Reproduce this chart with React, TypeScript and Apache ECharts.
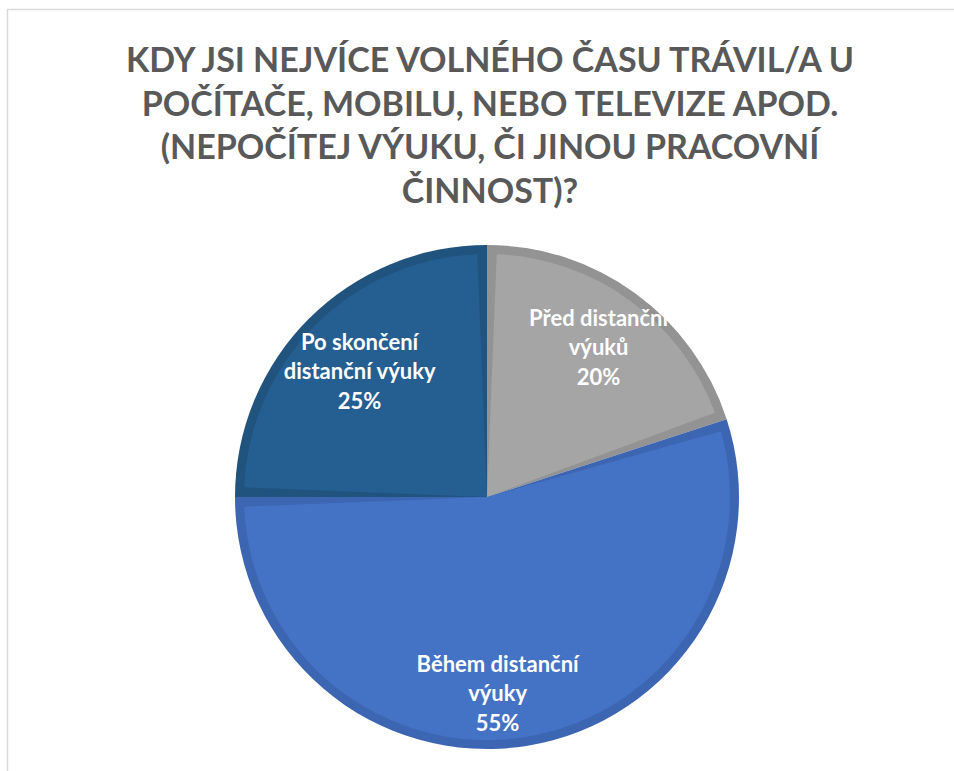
import React, { useEffect, useRef } from "react";
import * as echarts from "echarts";

const titleText =
  "KDY JSI NEJVÍCE VOLNÉHO ČASU TRÁVIL/A U\nPOČÍTAČE, MOBILU, NEBO TELEVIZE APOD.\n(NEPOČÍTEJ VÝUKU, ČI JINOU PRACOVNÍ\nČINNOST)?";
const categories = ["Před distanční\nvýuků", "Během distanční\nvýuky", "Po skončení\ndistanční výuky"];
const values = [20, 55, 25];
const fillColors = ["#A5A5A5", "#4472C4", "#255E91"];
const edgeColors = ["#939393", "#3D66B2", "#21537F"];
const labelOffsets = [[4, -2], [-18, 15], [2, 3]];

export default function App() {
  const ref = useRef<HTMLDivElement>(null);
  useEffect(() => {
    if (!ref.current) return;
    const chart = echarts.init(ref.current, null, { renderer: "svg" });
    const center = [487, 497];
    chart.setOption({
      animation: false,
      backgroundColor: "#ffffff",
      title: {
        text: titleText,
        left: 485,
        top: 32,
        textAlign: "center",
        textStyle: {
          fontFamily: "Lato",
          fontWeight: "bold",
          fontSize: 34,
          lineHeight: 43.5,
          color: "#595959",
        },
      },
      graphic: [
        {
          type: "rect",
          shape: { x: 7.5, y: 9.5, width: 1000, height: 900 },
          style: { fill: "none", stroke: "#D9D9D9", lineWidth: 1.5 },
          silent: true,
        },
      ],
      series: [
        {
          type: "pie",
          silent: true,
          center,
          radius: [0, 252],
          startAngle: 90,
          clockwise: true,
          label: { show: false },
          labelLine: { show: false },
          data: values.map((v, i) => ({
            name: categories[i],
            value: v,
            itemStyle: { color: edgeColors[i] },
          })),
        },
        {
          type: "pie",
          silent: true,
          center,
          radius: [0, 243],
          startAngle: 90,
          clockwise: true,
          padAngle: 4.6,
          label: { show: false },
          labelLine: { show: false },
          data: values.map((v, i) => ({
            name: categories[i],
            value: v,
            itemStyle: { color: fillColors[i] },
          })),
        },
        {
          type: "pie",
          silent: true,
          center,
          radius: [108, 252],
          startAngle: 90,
          clockwise: true,
          z: 5,
          itemStyle: { color: "rgba(0,0,0,0)" },
          labelLine: { show: false },
          label: {
            show: true,
            position: "inside",
            formatter: (p: any) => `${p.name}\n${p.value}%`,
            color: "#ffffff",
            fontFamily: "Lato",
            fontWeight: "bold",
            fontSize: 22,
            lineHeight: 29.5,
            align: "center",
          },
          data: values.map((v, i) => ({
            name: categories[i],
            value: v,
            label: { offset: labelOffsets[i] },
          })),
        },
      ],
    });
    return () => chart.dispose();
  }, []);
  return (
    <div
      ref={ref}
      style={{ position: "fixed", left: 0, top: 0, width: 954, height: 771 }}
    />
  );
}
